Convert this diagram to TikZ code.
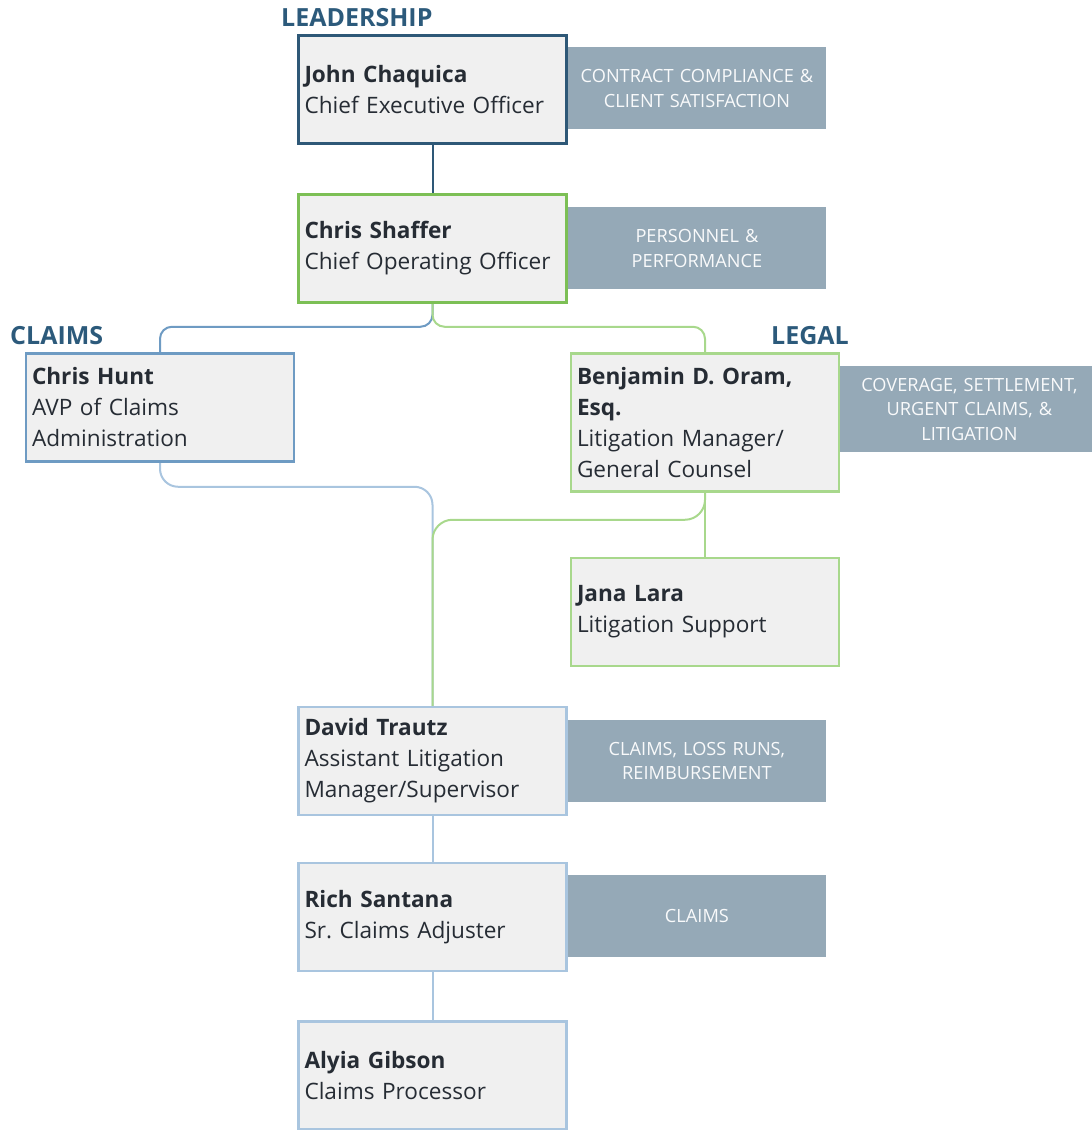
\documentclass[tikz,border=0pt]{standalone}
\usepackage{fontspec}
\setmainfont{Open Sans}
\usetikzlibrary{positioning,backgrounds}
\definecolor{HeadBlue}{HTML}{2C5A7B}
\definecolor{LeadBlue}{HTML}{2E5877}
\definecolor{ClaimBlue}{HTML}{6E9BC3}
\definecolor{PaleBlue}{HTML}{A9C5DF}
\definecolor{OpsGreen}{HTML}{7CBF55}
\definecolor{PaleGreen}{HTML}{A8D88C}
\definecolor{TagGray}{HTML}{95A9B7}
\definecolor{BoxFill}{HTML}{F0F0F0}
\definecolor{InkDark}{HTML}{262C34}
\tikzset{
  % Person box: name in bold, title below
  person/.style={
    rectangle, draw=#1, fill=BoxFill, line width=2.5pt,
    minimum width=268pt, minimum height=108pt,
    text width=256pt, inner xsep=5pt, align=left,
    text=InkDark, font=\fontsize{22.6}{31}\selectfont
  },
  % Duty tag at the right of a box
  duty/.style={
    rectangle, fill=TagGray, minimum width=258pt, minimum height=82pt,
    inner ysep=11.5pt, text width=250pt, align=center,
    text=white!94!TagGray, font=\fontsize{18.2}{24.5}\selectfont
  },
  % Section heading
  hdr/.style={
    inner sep=0pt, anchor=west, text=HeadBlue,
    font=\fontsize{25}{28}\selectfont\bfseries
  },
  % Connector
  conn/.style={line width=2pt, draw=#1}
}
\begin{document}
\begin{tikzpicture}[x=1pt, y=-1pt]
  \useasboundingbox (0,0) rectangle (1092,1130);

  % Headings
  \node[hdr] (leadership) at (281,18)  {LEADERSHIP};
  \node[hdr] (claims)     at (10,336)  {CLAIMS};
  \node[hdr] (legal)      at (771,336) {LEGAL};

  % People
  \node[person=LeadBlue]  (ceo)     at (432.5,89.5)  {\textbf{John Chaquica}\\Chief Executive Officer};
  \node[person=OpsGreen]  (coo)     at (432.5,248.5) {\textbf{Chris Shaffer}\\Chief Operating Officer};
  \node[person=ClaimBlue] (hunt)    at (160,407.5)   {\textbf{Chris Hunt}\\AVP of Claims\\Administration};
  \node[person=PaleGreen, minimum height=138pt] (oram) at (705,422.5)
    {\textbf{Benjamin D. Oram,}\\\textbf{Esq.}\\Litigation Manager/\\General Counsel};
  \node[person=PaleGreen] (lara)    at (705,612)     {\textbf{Jana Lara}\\Litigation Support};
  \node[person=PaleBlue]  (trautz)  at (432.5,761)   {\textbf{David Trautz}\\Assistant Litigation\\Manager/Supervisor};
  \node[person=PaleBlue]  (santana) at (432.5,917)   {\textbf{Rich Santana}\\Sr.\ Claims Adjuster};
  \node[person=PaleBlue]  (gibson)  at (432.5,1075.5){\textbf{Alyia Gibson}\\Claims Processor};

  % Duties
  \node[duty, below right=13pt and 0pt of ceo.north east, anchor=north west]     (ceoduty)    {CONTRACT COMPLIANCE \&\\CLIENT SATISFACTION};
  \node[duty, below right=14pt and 0pt of coo.north east, anchor=north west]     (cooduty)    {PERSONNEL \&\\PERFORMANCE};
  \node[duty, below right=14pt and 0pt of oram.north east, anchor=north west]    (oramduty)   {COVERAGE, SETTLEMENT,\\URGENT CLAIMS, \&\\LITIGATION};
  \node[duty, below right=14pt and 0pt of trautz.north east, anchor=north west]  (trautzduty) {CLAIMS, LOSS RUNS,\\REIMBURSEMENT};
  \node[duty, below right=13pt and 0pt of santana.north east, anchor=north west] (santanaduty){CLAIMS};

  % Reporting lines
  \begin{scope}[on background layer]
    \draw[conn=LeadBlue] (ceo.south) -- (coo.north);
    \draw[conn=ClaimBlue, rounded corners=12pt] (coo.south) -- ++(0,23) -| (hunt.north);
    \draw[conn=PaleGreen, rounded corners=12pt] (coo.south) -- ++(0,23) -| (oram.north);
    \draw[conn=PaleBlue, rounded corners=18pt] (hunt.south) -- ++(0,24) -| (trautz.north);
    \draw[conn=PaleGreen, rounded corners=20pt] (oram.south) -- ++(0,27) -| (trautz.north);
    \draw[conn=PaleGreen] (oram.south) -- (lara.north);
    \draw[conn=PaleBlue] (trautz.south) -- (santana.north);
    \draw[conn=PaleBlue] (santana.south) -- (gibson.north);
  \end{scope}
\end{tikzpicture}
\end{document}
